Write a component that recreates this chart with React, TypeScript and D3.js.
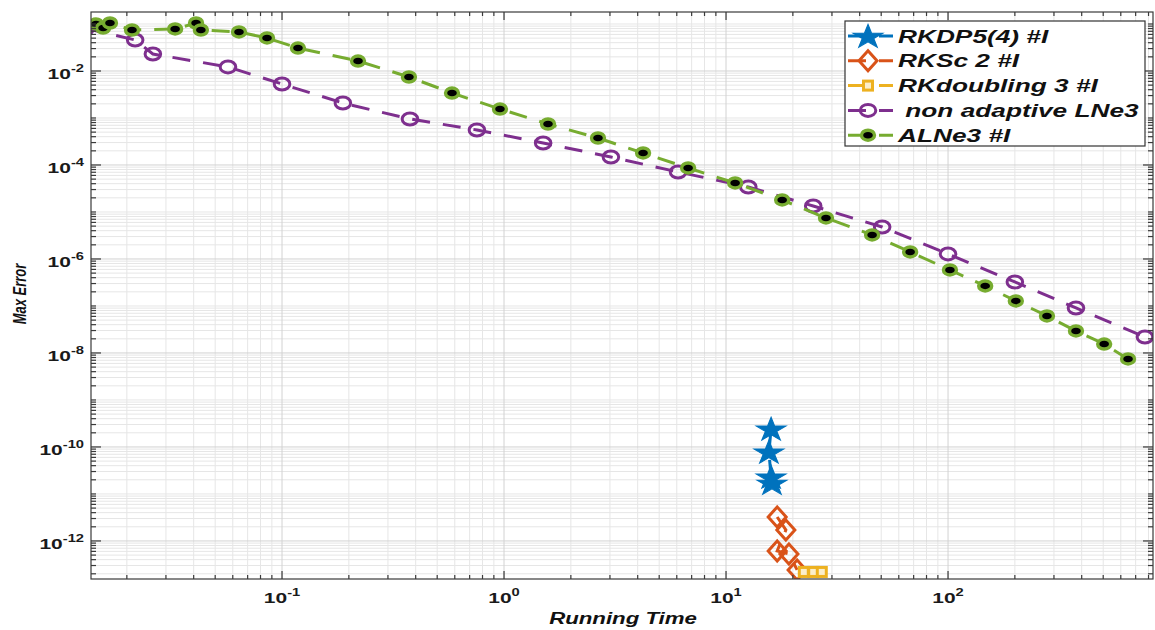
import React from 'react';
import * as d3 from 'd3';

// ---------- data ----------
const rkdpTime = [15.96, 15.6, 15.96, 16.1];
const rkdpErr = [2.42e-10, 7.83e-11, 2.3e-11, 1.71e-11];

const rkscTime = [17.0, 18.6, 17.0, 19.2, 20.9];
const rkscErr = [3.24e-12, 1.71e-12, 6.13e-13, 5.29e-13, 2.42e-13];

const rkdTime = [22.4, 24.7, 27.0];
const rkdErr = [2.19e-13, 2.19e-13, 2.19e-13];

const lne3Time = [0.01309, 0.0218, 0.0262, 0.0571, 0.1, 0.188, 0.377, 0.755, 1.5, 3.03, 6.08, 12.6, 24.7, 50.5, 100, 200, 377, 771];
const lne3Err = [0.0802, 0.0457, 0.023, 0.0122, 0.00528, 0.00208, 9.53e-4, 5.56e-4, 2.94e-4, 1.48e-4, 7.1e-5, 3.4e-5, 1.34e-5, 4.8e-6, 1.28e-6, 3.24e-7, 9.06e-8, 2.19e-8];

const alneTime = [0.01452, 0.01563, 0.01679, 0.0211, 0.033, 0.041, 0.0431, 0.064, 0.0856, 0.118, 0.22, 0.373, 0.583, 0.959, 1.578, 2.65, 4.23, 6.75, 10.99, 17.9, 28.2, 45.5, 67.5, 102, 147, 202, 279, 377, 505, 647];
const alneErr = [0.1, 0.0822, 0.105, 0.0745, 0.0783, 0.105, 0.0745, 0.0676, 0.0504, 0.0308, 0.0163, 0.00745, 0.0034, 0.00155, 7.45e-4, 3.75e-4, 1.8e-4, 8.63e-5, 4.14e-5, 1.8e-5, 7.45e-6, 3.24e-6, 1.41e-6, 5.83e-7, 2.67e-7, 1.28e-7, 6.13e-8, 2.94e-8, 1.55e-8, 7.45e-9];

const legendLabels = ['RKDP5(4) #I', 'RKSc 2 #I', 'RKdoubling 3 #I', ' non adaptive LNe3', 'ALNe3 #I'];
const xTickExps = [-1, 0, 1, 2];
const yTickExps = [-2, -4, -6, -8, -10, -12];
const xLabel = 'Running Time';
const yLabel = 'Max Error';

// ---------- layout ----------
const W = 1155;
const H = 630;
const L = 91, R = 1153, T = 12, B = 579;
const SX = 1.4; // horizontal stretch of the original picture

const C = {
  blue: '#0072BD',
  orange: '#D95319',
  yellow: '#EDB120',
  purple: '#7E2F8E',
  green: '#77AC30',
};

const FONT = '"Liberation Sans", Arial, Helvetica, sans-serif';

type Kind = 'star' | 'diamond' | 'square' | 'open' | 'dot';

function Marker({ kind, cx, cy }: { kind: Kind; cx: number; cy: number }) {
  if (kind === 'star') {
    const p = d3.symbol().type(d3.symbolStar).size(175)() as string;
    return (
      <path d={p} transform={`translate(${cx},${cy + 1}) scale(1.25,1)`} fill={C.blue} stroke={C.blue} strokeWidth={1} />
    );
  }
  if (kind === 'diamond') {
    return (
      <path d="M0,-10L9,0L0,10L-9,0Z" transform={`translate(${cx},${cy})`} fill="none" stroke={C.orange} strokeWidth={3} />
    );
  }
  if (kind === 'square') {
    return (
      <rect x={cx - 4.5} y={cy - 4.5} width={9} height={9} fill="#fbeecb" stroke={C.yellow} strokeWidth={3} />
    );
  }
  if (kind === 'open') {
    return (
      <ellipse cx={cx} cy={cy} rx={6 * 1.3} ry={6} fill="none" stroke={C.purple} strokeWidth={3} />
    );
  }
  return (
    <ellipse cx={cx} cy={cy} rx={5 * 1.3} ry={5} fill="#000" stroke={C.green} strokeWidth={3.4} />
  );
}

export default function App() {
  const x = d3.scaleLog().domain([0.01379, 838]).range([L, R]);
  const y = d3.scaleLog().domain([1.55e-13, 0.18]).range([B, T]);

  const [xd0, xd1] = x.domain();
  const [yd0, yd1] = y.domain();

  const xMinor: number[] = [];
  for (let e = -2; e <= 2; e++) {
    for (let k = 1; k <= 9; k++) {
      const v = k * Math.pow(10, e);
      if (v >= xd0 && v <= xd1) xMinor.push(v);
    }
  }
  const yMinor: number[] = [];
  for (let e = -13; e <= -1; e++) {
    for (let k = 1; k <= 9; k++) {
      const v = k * Math.pow(10, e);
      if (v >= yd0 && v <= yd1) yMinor.push(v);
    }
  }
  const xMajor = xTickExps.map((e) => Math.pow(10, e));
  const yMajor = yTickExps.map((e) => Math.pow(10, e));
  const isMajX = (v: number) => xMajor.some((m) => Math.abs(v / m - 1) < 1e-9);
  const isMajY = (v: number) => yMajor.some((m) => Math.abs(v / m - 1) < 1e-9);

  const series = [
    { t: rkdpTime, e: rkdpErr, color: C.blue, kind: 'star' as Kind },
    { t: rkscTime, e: rkscErr, color: C.orange, kind: 'diamond' as Kind },
    { t: rkdTime, e: rkdErr, color: C.yellow, kind: 'square' as Kind },
    { t: lne3Time, e: lne3Err, color: C.purple, kind: 'open' as Kind },
    { t: alneTime, e: alneErr, color: C.green, kind: 'dot' as Kind },
  ];

  const line = d3
    .line<[number, number]>()
    .x((d) => x(d[0]))
    .y((d) => y(d[1]));

  const dash = '18,13';

  const legendX = 845, legendY = 21, legendW = 300, legendH = 125;
  const rowY = (i: number) => 36 + i * 24.8;

  return (
    <svg width={W} height={H} style={{ position: 'absolute', left: 0, top: 0, background: '#fff' }} fontFamily={FONT}>
      <defs>
        <clipPath id="plotclip">
          <rect x={L} y={T} width={R - L} height={B - T} />
        </clipPath>
      </defs>
      <rect x={0} y={0} width={W} height={H} fill="#fff" />

      {/* minor grid */}
      <g stroke="#e6e6e6" strokeWidth={1}>
        {xMinor.filter((v) => !isMajX(v)).map((v, i) => (
          <line key={'xm' + i} x1={x(v)} x2={x(v)} y1={T} y2={B} />
        ))}
        {yMinor.filter((v) => !isMajY(v)).map((v, i) => (
          <line key={'ym' + i} x1={L} x2={R} y1={y(v)} y2={y(v)} />
        ))}
      </g>
      {/* major grid */}
      <g stroke="#d2d2d2" strokeWidth={1}>
        {xMajor.map((v, i) => (
          <line key={'xM' + i} x1={x(v)} x2={x(v)} y1={T} y2={B} />
        ))}
        {yMajor.map((v, i) => (
          <line key={'yM' + i} x1={L} x2={R} y1={y(v)} y2={y(v)} />
        ))}
      </g>

      {/* data */}
      <g clipPath="url(#plotclip)">
        {series.map((s, si) => {
          const pts: [number, number][] = s.t.map((t, i) => [t, s.e[i]]);
          return (
            <g key={'s' + si}>
              <path d={line(pts) as string} fill="none" stroke={s.color} strokeWidth={3} strokeDasharray={dash} />
              {pts.map((p, i) => (
                <Marker key={i} kind={s.kind} cx={x(p[0])} cy={y(p[1])} />
              ))}
            </g>
          );
        })}
      </g>

      {/* axes box and ticks */}
      <g stroke="#3a3a3a" strokeWidth={1.2} fill="none">
        <rect x={L} y={T} width={R - L} height={B - T} />
        {xMinor.map((v, i) => {
          const len = isMajX(v) ? 8 : 4;
          return (
            <g key={'xt' + i}>
              <line x1={x(v)} x2={x(v)} y1={B} y2={B - len} />
              <line x1={x(v)} x2={x(v)} y1={T} y2={T + len} />
            </g>
          );
        })}
        {yMinor.map((v, i) => {
          const len = isMajY(v) ? 10 : 5;
          return (
            <g key={'yt' + i}>
              <line x1={L} x2={L + len} y1={y(v)} y2={y(v)} />
              <line x1={R} x2={R - len} y1={y(v)} y2={y(v)} />
            </g>
          );
        })}
      </g>

      {/* tick labels */}
      <g fill="#1a1a1a" fontWeight={700}>
        {xTickExps.map((e, i) => (
          <g key={'xl' + i} transform={`translate(${x(Math.pow(10, e))},603) scale(${SX},1)`}>
            <text x={0} y={0} textAnchor="middle" fontSize={15}>
              10<tspan dy={-7} fontSize={10.5}>{String(e)}</tspan>
            </text>
          </g>
        ))}
        {yTickExps.map((e, i) => (
          <g key={'yl' + i} transform={`translate(84,${y(Math.pow(10, e)) + 8}) scale(${SX},1)`}>
            <text x={0} y={0} textAnchor="end" fontSize={15}>
              10<tspan dy={-7} fontSize={10.5}>{String(e)}</tspan>
            </text>
          </g>
        ))}
      </g>

      {/* axis labels */}
      <g transform={`translate(623,624) scale(1.39,1)`}>
        <text textAnchor="middle" fontSize={16} fontWeight={700} fontStyle="italic" fill="#111">
          {xLabel}
        </text>
      </g>
      <g transform={`translate(26,294) scale(${SX},1) rotate(-90)`}>
        <text textAnchor="middle" fontSize={13} fontWeight={700} fontStyle="italic" fill="#111">
          {yLabel}
        </text>
      </g>

      {/* legend */}
      <rect x={legendX} y={legendY} width={legendW} height={legendH} fill="#fff" stroke="#333" strokeWidth={1.2} />
      {series.map((s, i) => {
        const cy = rowY(i);
        return (
          <g key={'lg' + i}>
            <line x1={848} x2={893} y1={cy} y2={cy} stroke={s.color} strokeWidth={3} strokeDasharray={dash} />
            <Marker kind={s.kind} cx={868} cy={cy} />
            <g transform={`translate(898,${cy + 6.5}) scale(1.42,1)`}>
              <text x={0} y={0} fontSize={18.5} fontWeight={700} fontStyle="italic" fill="#111" style={{ whiteSpace: 'pre' }}>
                {legendLabels[i]}
              </text>
            </g>
          </g>
        );
      })}
    </svg>
  );
}
